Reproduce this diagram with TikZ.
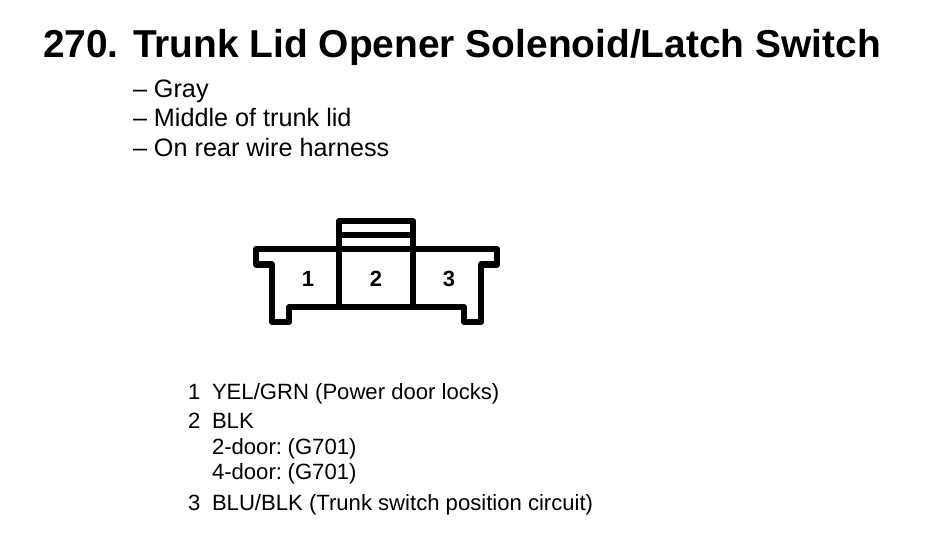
\documentclass[tikz,border=0pt]{standalone}
\usepackage{fontspec}
\setmainfont{Liberation Sans}
\tikzset{
  wire/.style={line width=6.2pt,line join=round,line cap=round,black},
  txt/.style={anchor=base west,inner sep=0pt,outer sep=0pt,text=black},
  titletxt/.style={txt,font=\fontsize{38.9}{42}\selectfont\bfseries},
  subtxt/.style={txt,font=\fontsize{25.2}{28}\selectfont},
  listtxt/.style={txt,font=\fontsize{22.1}{25}\selectfont},
  pin/.style={anchor=center,inner sep=0pt,font=\fontsize{22}{24}\selectfont\bfseries}
}
\begin{document}
\begin{tikzpicture}[x=1pt,y=-1pt]
\useasboundingbox (0,0) rectangle (944,556);
\node[titletxt] (num) at (43,57.5) {270.};
\node[titletxt] (title) at (133,57.5) {Trunk Lid Opener Solenoid/Latch Switch};
\node[subtxt] (s1) at (133,98) {– Gray};
\node[subtxt] (s2) at (133,127) {– Middle of trunk lid};
\node[subtxt] (s3) at (133,156.5) {– On rear wire harness};
\draw[wire] (256,249) -- (497,249) -- (497,264.5) -- (481,264.5) -- (481,322) -- (464,322) -- (464,307) -- (289,307) -- (289,322) -- (272,322) -- (272,264.5) -- (256,264.5) -- cycle;
\draw[wire] (339,307) -- (339,221) -- (413,221) -- (413,307);
\draw[wire] (339,235) -- (413,235);
\node[pin] (p1) at (308,279) {1};
\node[pin] (p2) at (376,279) {2};
\node[pin] (p3) at (449,279) {3};
\node[listtxt] (n1) at (188,399) {1};
\node[listtxt] (l1) at (212,399) {YEL/GRN (Power door locks)};
\node[listtxt] (n2) at (188,428) {2};
\node[listtxt] (l2) at (212,428) {BLK};
\node[listtxt] (l3) at (212,454) {2-door:\hspace{-2.5pt} (G701)};
\node[listtxt] (l4) at (212,479) {4-door:\hspace{-2.5pt} (G701)};
\node[listtxt] (n3) at (188,510) {3};
\node[listtxt] (l5) at (212,510) {BLU/BLK (Trunk switch position circuit)};
\end{tikzpicture}
\end{document}
